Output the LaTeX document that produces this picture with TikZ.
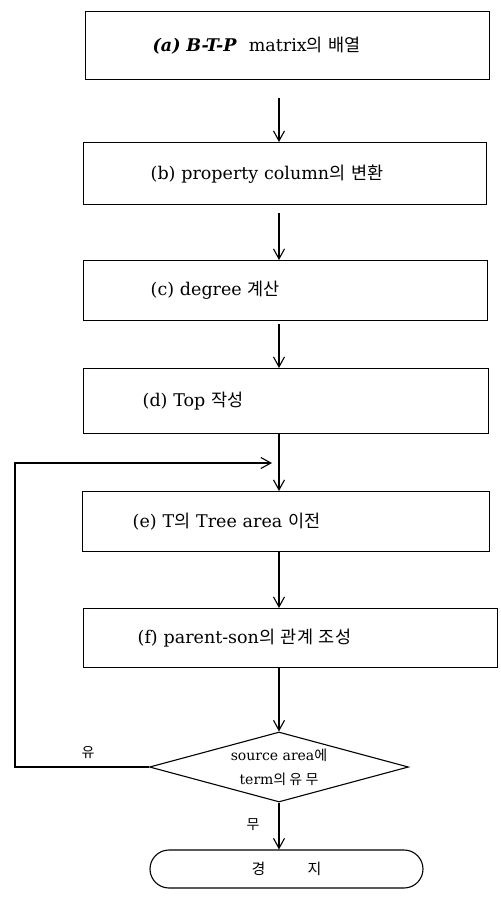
\documentclass[tikz,border=0pt]{standalone}
\usepackage{fontspec}
\setmainfont{DejaVu Serif}
\newfontfamily\kr{Noto Sans CJK KR}
\usetikzlibrary{arrows.meta,shapes.geometric}
\begin{document}
\begin{tikzpicture}[x=1pt,y=-1pt,
  txt/.style={font=\fontsize{17.5}{21}\selectfont},
  box/.style={txt, draw, line width=1.4pt, inner sep=0pt, anchor=north west, align=left},
  arr/.style={line width=1.1pt, -{Straight Barb[length=10pt,width=11pt,line width=1.1pt]}},
  plain/.style={line width=1.1pt}]
\useasboundingbox (0,0) rectangle (501,898);
% process boxes
\node[box, minimum width=404pt, minimum height=68pt, text width=404pt] (a) at (85,11)
  {\hspace*{67pt}\textbf{\textit{(a) B-T-P}}\hspace{12pt}matrix{\kr 의 배열}};
\node[box, minimum width=403pt, minimum height=62pt, text width=403pt] (b) at (83,142)
  {\hspace*{67pt}(b) property column{\kr 의 변환}};
\node[box, minimum width=404pt, minimum height=60pt, text width=404pt] (c) at (83,260)
  {\hspace*{67pt}(c) degree {\kr 계산}};
\node[box, minimum width=405pt, minimum height=65pt, text width=405pt] (d) at (83,368)
  {\hspace*{59pt}(d) Top {\kr 작성}};
\node[box, minimum width=407pt, minimum height=60pt, text width=407pt] (e) at (82,491)
  {\hspace*{50pt}(e) T{\kr 의} Tree area {\kr 이전}};
\node[box, minimum width=414pt, minimum height=59pt, text width=414pt] (f) at (83,608)
  {\hspace*{54pt}(f) parent-son{\kr 의 관계 조성}};
% decision
\node[draw, diamond, aspect=3.7, minimum width=259pt, minimum height=70pt, inner sep=0pt,
  line width=1.1pt, align=center, font=\fontsize{14}{24}\selectfont] (dec) at (279,767)
  {source area{\kr 에}\\term{\kr 의 유 무}};
% terminal
\node[draw, rounded corners=19pt, minimum width=273pt, minimum height=38pt, line width=1.1pt,
  font=\fontsize{15}{18}\selectfont] (stop) at (286.5,869)
  {{\kr 경}\hspace{42pt}{\kr 지}};
% labels
\node[font=\fontsize{14}{17}\selectfont] (yes) at (88,752) {\kr 유};
\node[font=\fontsize{14}{17}\selectfont] (no) at (253,825) {\kr 무};
% connectors
\coordinate (lp) at (15,463);
\draw[arr, shorten <=18pt] (a.south -| dec.north) -- (b.north -| dec.north);
\draw[arr, shorten <=8pt] (b.south -| dec.north) -- (c.north -| dec.north);
\draw[arr, shorten <=3pt] (c.south -| dec.north) -- (d.north -| dec.north);
\draw[arr] (d.south -| dec.north) -- (e.north -| dec.north);
\draw[arr] (e.south -| dec.north) -- (f.north -| dec.north);
\draw[arr] (f.south -| dec.north) -- (dec.north);
\draw[arr] (dec.south) -- (stop.north -| dec.south);
\draw[arr, shorten >=7pt] (dec.west) -| (lp) -- (lp -| dec.north);
\end{tikzpicture}
\end{document}
